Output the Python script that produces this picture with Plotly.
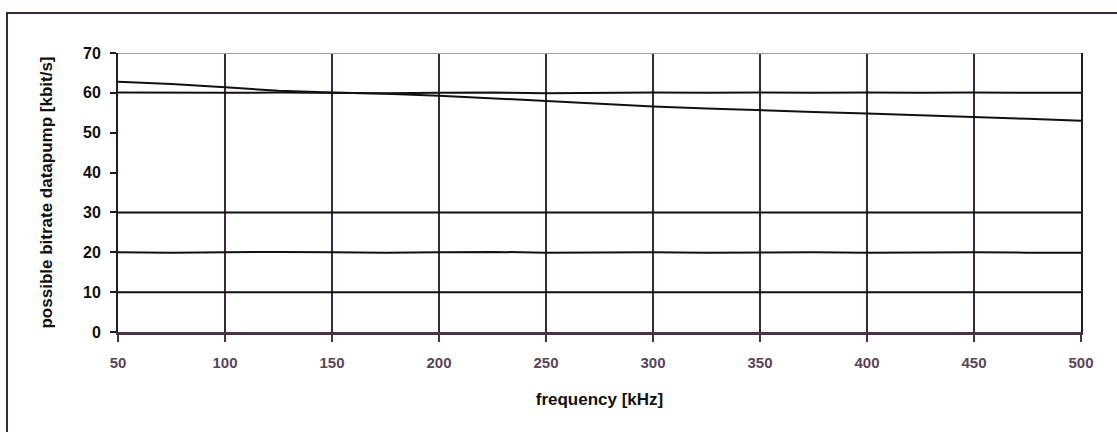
import plotly.graph_objects as go

# Frequency grid (kHz)
freq_khz = [50, 75, 100, 125, 150, 175, 200, 225, 250, 275, 300, 325, 350, 375, 400, 425, 450, 475, 500]

# Bitrate curves (kbit/s)
rate_falling = [62.8, 62.2, 61.4, 60.5, 60.1, 59.8, 59.3, 58.6, 58.0, 57.3, 56.6, 56.1, 55.6, 55.2, 54.8, 54.4, 53.9, 53.5, 53.0]
rate_60 = [60.1, 60.0, 60.0, 60.1, 60.0, 59.9, 60.0, 60.1, 59.9, 60.0, 60.1, 60.0, 60.1, 60.0, 60.1, 60.0, 60.1, 60.0, 60.0]
rate_30 = [30.0, 30.0, 30.0, 30.0, 30.0, 30.0, 30.0, 30.0, 30.0, 30.0, 30.0, 30.0, 30.0, 30.0, 30.0, 30.0, 30.0, 30.0, 30.0]
rate_20 = [20.0, 19.9, 20.0, 20.1, 20.0, 19.9, 20.0, 20.1, 19.9, 20.0, 20.0, 19.9, 20.0, 20.0, 19.9, 20.0, 20.0, 19.9, 19.9]
rate_10 = [10.0, 10.0, 10.0, 10.0, 10.0, 10.0, 10.0, 10.0, 10.0, 10.0, 10.0, 10.0, 10.0, 10.0, 10.0, 10.0, 10.0, 10.0, 10.0]

x_ticks = [50, 100, 150, 200, 250, 300, 350, 400, 450, 500]
y_ticks = [0, 10, 20, 30, 40, 50, 60, 70]

fig = go.Figure()
for series in (rate_falling, rate_60, rate_30, rate_20, rate_10):
    fig.add_trace(go.Scatter(
        x=freq_khz, y=series, mode="lines",
        line=dict(color="#111111", width=2),
        showlegend=False, hoverinfo="skip",
    ))

fig.update_layout(
    width=1117, height=432,
    margin=dict(l=118, r=36, t=53, b=100),
    paper_bgcolor="white", plot_bgcolor="white",
    xaxis=dict(
        range=[50, 500], tickvals=x_ticks, ticktext=["<b>%d</b>" % v for v in x_ticks],
        showgrid=True, gridcolor="#3a2a38", gridwidth=2,
        showline=True, linecolor="#4b3347", linewidth=3,
        ticks="outside", ticklen=7, tickwidth=2, tickcolor="#4b3347",
        ticklabelstandoff=8,
        zeroline=False,
        tickfont=dict(family="Liberation Sans, Arial", size=15, color="#5a4658"),
        title=dict(text="<b>frequency [kHz]</b>", standoff=24,
                   font=dict(family="Liberation Sans, Arial", size=17, color="#111111")),
    ),
    yaxis=dict(
        range=[0, 70], tickvals=y_ticks, ticktext=["<b>%d</b>" % v for v in y_ticks],
        showgrid=False, zeroline=False,
        showline=True, mirror=True, linecolor="#231a22", linewidth=2,
        ticks="outside", ticklen=6, tickwidth=2, tickcolor="#231a22",
        ticklabelstandoff=6,
        tickfont=dict(family="Liberation Sans, Arial", size=16, color="#111111"),
        title=dict(text="<b>possible bitrate datapump [kbit/s]</b>", standoff=26,
                   font=dict(family="Liberation Sans, Arial", size=17, color="#111111")),
    ),
    shapes=[
        # top boundary at 70 kbit/s
        dict(type="line", xref="paper", yref="y", x0=0, x1=1, y0=70, y1=70,
             line=dict(color="#a898a6", width=2)),
        # outer chart frame
        dict(type="rect", xref="paper", yref="paper",
             x0=-111 / 963, x1=1106 / 963, y0=-110 / 279, y1=1 + 40 / 279,
             line=dict(color="#3a2a38", width=2), layer="below"),
    ],
)

fig.write_html("out.html")
